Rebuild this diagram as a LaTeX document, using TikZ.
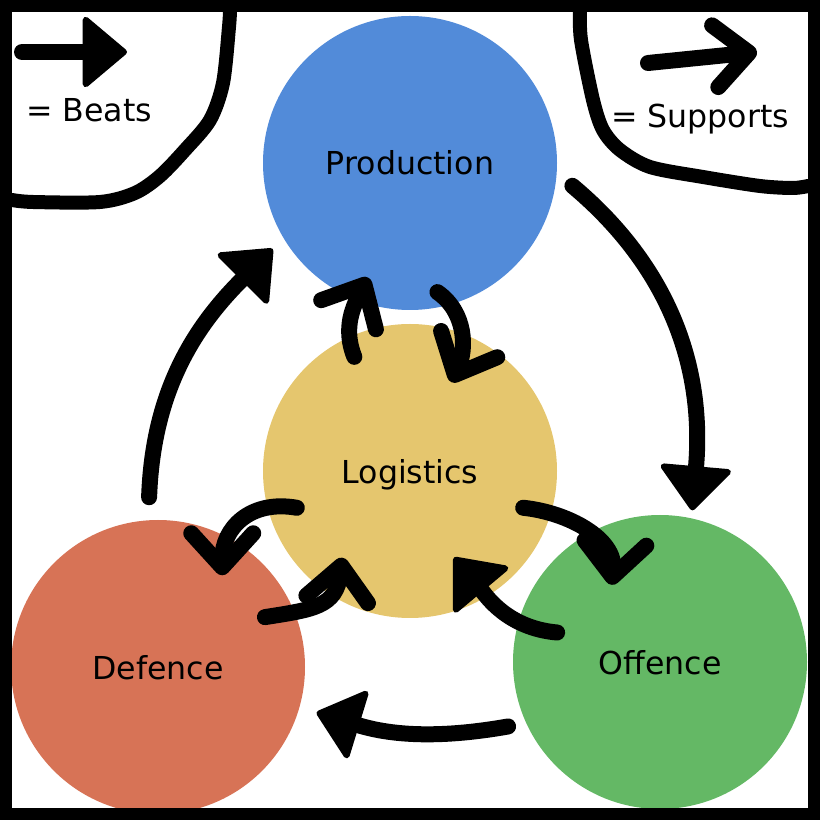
\documentclass[tikz,border=0pt]{standalone}
\usepackage{fontspec}
\setmainfont{DejaVu Sans}
\usetikzlibrary{arrows.meta}
\definecolor{prodblue}{RGB}{82,139,217}
\definecolor{logyellow}{RGB}{229,198,110}
\definecolor{defred}{RGB}{215,115,86}
\definecolor{offgreen}{RGB}{100,184,101}
\tikzset{
  zone/.style={circle, minimum size=147pt, inner sep=0pt, text depth=0pt},
  beats/.style={line width=8pt, line cap=round, -{Triangle[length=23pt,width=38pt,line width=3pt,round]}},
  supports/.style={line width=8pt, line cap=round, -{Straight Barb[length=17pt,width=31pt,round]}},
  corner/.style={line width=7pt, line cap=round}
}
\begin{document}
\begin{tikzpicture}[x=0.5pt,y=0.5pt,font=\fontsize{15.8}{18}\selectfont]
\useasboundingbox (0,0) rectangle (820,820);
\node[zone, fill=prodblue] (P) at (410,657) {Production};
\node[zone, fill=logyellow] (L) at (410,349) {Logistics};
\node[zone, fill=defred] (D) at (158,153) {Defence};
\node[zone, fill=offgreen] (O) at (660,158) {Offence};

\draw[beats] ([shift={(93:170)}]D.center) to[out=88,in=225] ([shift={(212:162)}]P.center);
\draw[beats] ([shift={(352:164)}]P.center) to[out=-40,in=85] ([shift={(78:155)}]O.center);
\draw[beats] ([shift={(203:165)}]O.center) to[out=190,in=343] ([shift={(344:165)}]D.center);
\draw[beats] ([shift={(164:107)}]O.center) to[out=175,in=310] ([shift={(297:97)}]L.center);

\draw[supports] ([shift={(116:127)}]L.center) to[out=112,in=242] ([shift={(250:122)}]P.center);
\draw[supports] ([shift={(282:132)}]P.center) to[out=-35,in=65] ([shift={(65:98)}]L.center);
\draw[supports] ([shift={(198:119)}]L.center) to[out=170,in=90,looseness=1.2] ([shift={(55:112)}]D.center);
\draw[supports] ([shift={(25:118)}]D.center) to[out=9,in=263,looseness=1.3] ([shift={(232:110)}]L.center);
\draw[supports] ([shift={(342:119)}]L.center) to[out=-6,in=85] ([shift={(122:91)}]O.center);

\node[anchor=base] (bt) at (89,698) {= Beats};
\node[anchor=base] (st) at (700,692) {= Supports};
\coordinate (b0) at (22,768);
\coordinate (b1) at (127,768);
\draw[beats] (b0) -- (b1);
\coordinate (s0) at (648,757);
\coordinate (s1) at (757,768);
\draw[supports] (s0) -- (s1);

\draw[corner] plot[smooth] coordinates {(230,810) (229,793) (223,737) (210,700) (185,670) (160,644) (135,627) (100,618) (33,618) (12,620)};
\draw[corner] plot[smooth] coordinates {(580,810) (581,780) (593,720) (603,690) (620,670) (650,653) (703,643) (760,634) (793,632) (808,634)};

\draw[line width=6pt] (6,6) rectangle (814,814);
\end{tikzpicture}
\end{document}
